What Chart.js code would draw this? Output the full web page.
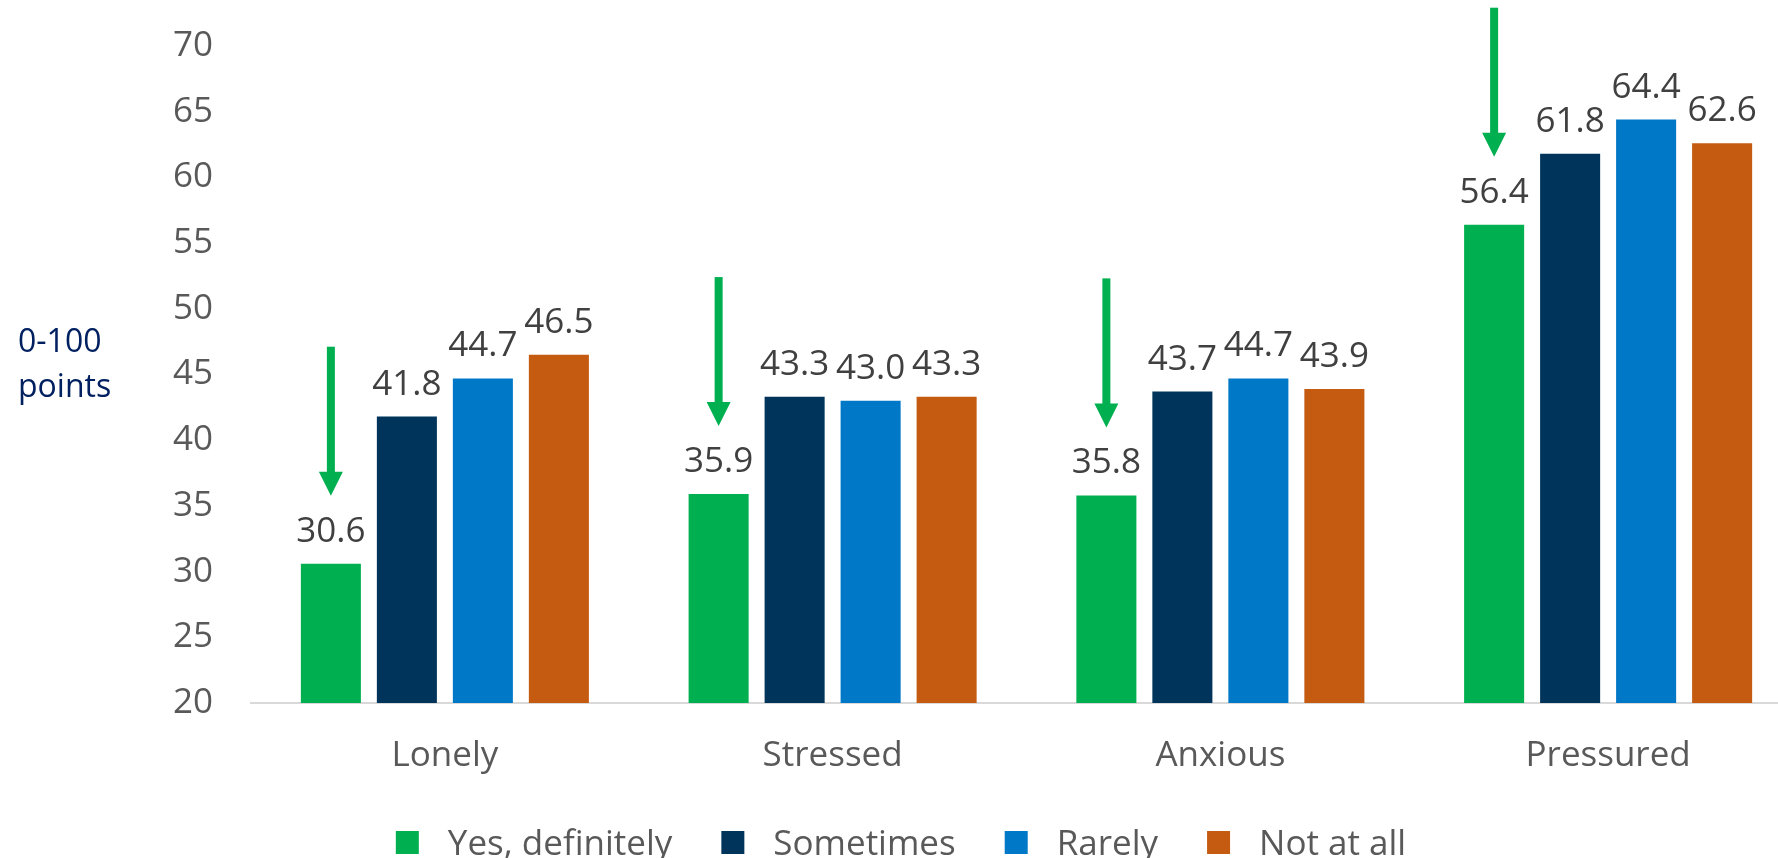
<!DOCTYPE html>
<html lang="en">
<head>
<meta charset="utf-8">
<title>Feelings by response</title>
<script src="https://cdn.jsdelivr.net/npm/chart.js@4.4.1/dist/chart.umd.min.js"></script>
<style>
  html, body { margin: 0; padding: 0; background: #fff; overflow: hidden; }
  /* a bit wider than the window: the last group runs off the right edge */
  .chart-wrap { position: relative; width: 1830px; height: 858px; }
</style>
</head>
<body>
<div class="chart-wrap"><canvas id="feelings-chart"></canvas></div>
<script>
// scores per feeling, one array per answer
const categories = ['Lonely', 'Stressed', 'Anxious', 'Pressured'];
const seriesNames = ['Yes, definitely', 'Sometimes', 'Rarely', 'Not at all'];
const yesDefinitely = [30.6, 35.9, 35.8, 56.4];
const sometimes = [41.8, 43.3, 43.7, 61.8];
const rarely = [44.7, 43.0, 44.7, 64.4];
const notAtAll = [46.5, 43.3, 43.9, 62.6];
const yMin = 20;
const yMax = 70;
const yStep = 5;
const axisTitleLines = ['0-100', 'points'];

const FONT = "'Open Sans', 'Noto Sans', sans-serif";
const COLORS = ['#00b050', '#00345a', '#0078c8', '#c55a11'];
const TICK_INK = '#595959';
const LABEL_INK = '#404040';
const TITLE_INK = '#002060';
const AXIS_LINE = '#d9d9d9';
const LEGEND_CENTER = 901;

// value printed above every bar
const valueLabels = {
  id: 'valueLabels',
  afterDatasetsDraw(chart) {
    const { ctx } = chart;
    ctx.save();
    ctx.font = `35px ${FONT}`;
    ctx.fillStyle = LABEL_INK;
    ctx.textAlign = 'center';
    ctx.textBaseline = 'alphabetic';
    chart.data.datasets.forEach((ds, i) => {
      chart.getDatasetMeta(i).data.forEach((bar, j) => {
        ctx.fillText(ds.data[j].toFixed(1), bar.x, bar.y - 22);
      });
    });
    ctx.restore();
  },
};

// green down arrows over the "Yes, definitely" bars
const downArrows = {
  id: 'downArrows',
  afterDatasetsDraw(chart) {
    const { ctx } = chart;
    ctx.save();
    ctx.fillStyle = COLORS[0];
    chart.getDatasetMeta(0).data.forEach((bar) => {
      const tip = bar.y - 68;
      const top = tip - 149;
      const headTop = tip - 24;
      ctx.fillRect(bar.x - 4, top, 8, headTop - top + 1);
      ctx.beginPath();
      ctx.moveTo(bar.x - 12, headTop);
      ctx.lineTo(bar.x + 12, headTop);
      ctx.lineTo(bar.x, tip);
      ctx.closePath();
      ctx.fill();
    });
    ctx.restore();
  },
};

// horizontal y-axis title at the far left
const axisTitle = {
  id: 'axisTitle',
  afterDraw(chart) {
    const { ctx } = chart;
    ctx.save();
    ctx.font = `32px ${FONT}`;
    ctx.fillStyle = TITLE_INK;
    ctx.textAlign = 'left';
    ctx.textBaseline = 'alphabetic';
    axisTitleLines.forEach((line, i) => ctx.fillText(line, 18, 352 + i * 45));
    ctx.restore();
  },
};

// legend row under the category labels
const bottomLegend = {
  id: 'bottomLegend',
  afterDraw(chart) {
    const { ctx } = chart;
    const box = 23;
    const gap = 29;
    const spacing = 49;
    ctx.save();
    ctx.font = `35px ${FONT}`;
    const widths = chart.data.datasets.map((ds) => ctx.measureText(ds.label).width);
    const total = widths.reduce((sum, w) => sum + box + gap + w, 0) + spacing * (widths.length - 1);
    let x = LEGEND_CENTER - total / 2;
    chart.data.datasets.forEach((ds, i) => {
      ctx.fillStyle = ds.backgroundColor;
      ctx.fillRect(x, 831, box, box);
      ctx.fillStyle = TICK_INK;
      ctx.textBaseline = 'alphabetic';
      ctx.fillText(ds.label, x + box + gap, 855);
      x += box + gap + widths[i] + spacing;
    });
    ctx.restore();
  },
};

const seriesValues = [yesDefinitely, sometimes, rarely, notAtAll];

new Chart(document.getElementById('feelings-chart'), {
  type: 'bar',
  data: {
    labels: categories,
    datasets: seriesNames.map((name, i) => ({
      label: name,
      data: seriesValues[i],
      backgroundColor: COLORS[i],
      borderWidth: 0,
      categoryPercentage: 0.784,
      barPercentage: 0.79,
    })),
  },
  options: {
    responsive: true,
    maintainAspectRatio: false,
    animation: false,
    layout: { padding: { top: 46, right: 28, left: 0, bottom: 0 } },
    plugins: {
      legend: { display: false },
      tooltip: { enabled: false },
    },
    scales: {
      x: {
        grid: { display: false, drawTicks: false },
        border: { display: true, color: AXIS_LINE, width: 2 },
        ticks: { color: TICK_INK, font: { family: FONT, size: 35 }, padding: 32 },
        afterFit: (scale) => { scale.height = 155; },
      },
      y: {
        min: yMin,
        max: yMax,
        // invisible tick marks keep the labels clear of the bars
        grid: { display: false, drawTicks: true, tickLength: 38 },
        border: { display: false },
        ticks: {
          stepSize: yStep,
          color: TICK_INK,
          font: { family: FONT, size: 35 },
          padding: 0,
        },
        afterFit: (scale) => { scale.width = 251; },
      },
    },
  },
  plugins: [valueLabels, downArrows, axisTitle, bottomLegend],
});
</script>
</body>
</html>
